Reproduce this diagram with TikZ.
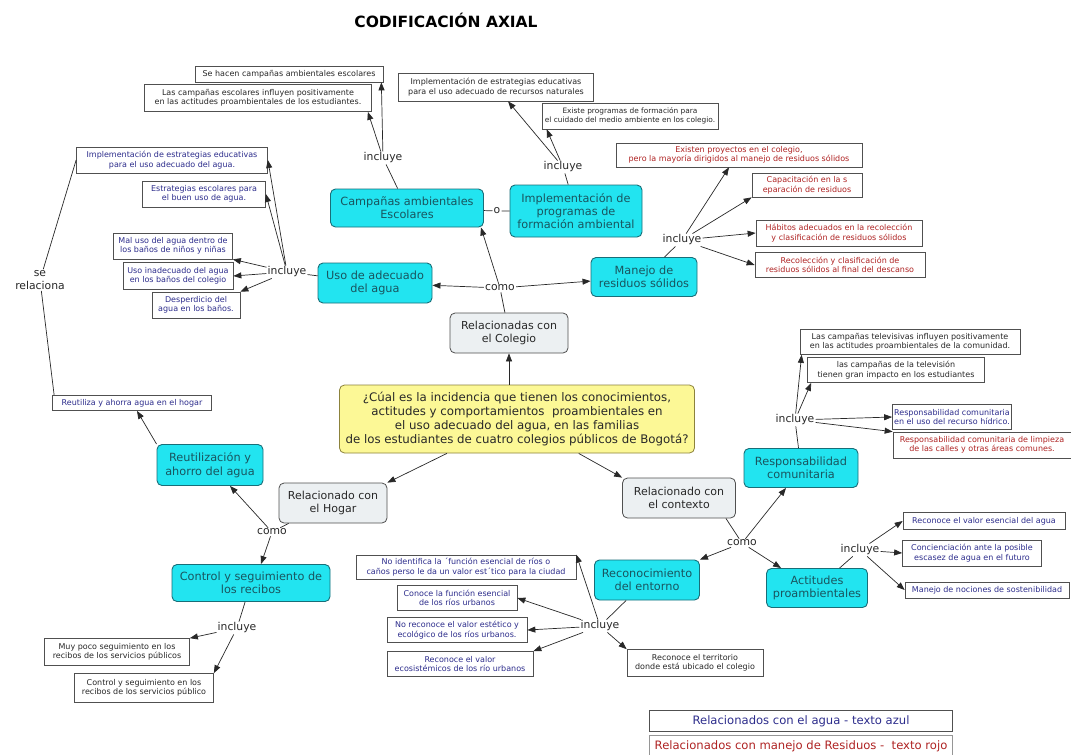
\documentclass[tikz,border=0pt]{standalone}
\usepackage{fontspec}
\setmainfont{DejaVu Sans}
\usetikzlibrary{arrows.meta}
\definecolor{cyanfill}{RGB}{34,228,240}
\definecolor{cyandraw}{RGB}{25,110,120}
\definecolor{cyantext}{RGB}{25,85,95}
\definecolor{greyfill}{RGB}{236,240,242}
\definecolor{greydraw}{RGB}{80,80,80}
\definecolor{yelfill}{RGB}{252,248,150}
\definecolor{yeldraw}{RGB}{140,130,60}
\definecolor{bluetext}{RGB}{45,45,140}
\definecolor{redtext}{RGB}{175,35,35}
\definecolor{darktext}{RGB}{40,40,40}
\definecolor{linecol}{RGB}{40,40,40}
\begin{document}
\begin{tikzpicture}[x=1pt,y=-1pt,
 cnode/.style={draw=cyandraw, fill=cyanfill, rounded corners=5pt, line width=0.9pt, text=cyantext, font=\fontsize{11.3}{13.3}\selectfont, align=center, inner sep=2pt},
 relnode/.style={draw=greydraw, fill=greyfill, rounded corners=5pt, line width=0.8pt, text=darktext, font=\fontsize{11}{13.3}\selectfont, align=center, inner sep=2pt},
 yelnode/.style={draw=yeldraw, fill=yelfill, rounded corners=5pt, line width=0.8pt, text=darktext, font=\fontsize{11.8}{14}\selectfont, align=center, inner sep=2pt},
 sbox/.style={draw=greydraw, fill=white, line width=0.7pt, font=\fontsize{8}{9.4}\selectfont, align=center, inner sep=1.5pt, text=darktext},
 bsbox/.style={sbox, text=bluetext},
 rsbox/.style={sbox, text=redtext},
 lab/.style={font=\fontsize{10.8}{13}\selectfont, text=darktext, inner sep=1pt, align=center},
 con/.style={draw=linecol, line width=0.7pt},
 arr/.style={con, -{Triangle[length=8pt,width=6pt]}},
]
\clip (0,0) rectangle (1071,755);
\fill[white] (0,0) rectangle (1071,755);

\node[font=\fontsize{15.5}{18}\selectfont\bfseries, text=black] (title) at (446,20) {CODIFICACIÓN AXIAL};

% top left
\node[sbox, minimum width=188, minimum height=16] (se) at (289,74) {Se hacen campañas ambientales escolares};
\node[sbox, minimum width=227, minimum height=27] (lcamp) at (258,98) {Las campañas escolares influyen positivamente\\en las actitudes proambientales de los estudiantes.};
\node[lab] (inc1) at (383,158) {incluye};
\node[cnode, minimum width=153, minimum height=38] (camp) at (407,208) {Campañas ambientales\\Escolares};
\node[lab] (o) at (497,211) {o};
\node[cnode, minimum width=132, minimum height=52] (implprog) at (576,211) {Implementación de\\programas de\\formación ambiental};
\node[lab] (inc2) at (563,167) {incluye};
\node[sbox, minimum width=195, minimum height=28] (implrec) at (496,87) {Implementación de estrategias educativas\\para el uso adecuado de recursos naturales};
\node[sbox, font=\fontsize{7.4}{9}\selectfont, minimum width=176, minimum height=26] (existe) at (630,116) {Existe programas de formación para\\el cuidado del medio ambiente en los colegio.};

% center top
\node[cnode, minimum width=114, minimum height=40] (uso) at (375,283) {Uso de adecuado\\del agua};
\node[lab] (como1) at (500,288) {como};
\node[cnode, minimum width=106, minimum height=39] (manejo) at (644,277) {Manejo de\\residuos sólidos};
\node[relnode, minimum width=118, minimum height=40] (relcol) at (509,333) {Relacionadas con\\el Colegio};
\node[yelnode, minimum width=355, minimum height=68] (yellow) at (517,419) {¿Cúal es la incidencia que tienen los conocimientos,\\actitudes y comportamientos\ \ proambientales en\\el uso adecuado del agua, en las familias\\de los estudiantes de cuatro colegios públicos de Bogotá?};

% residuos
\node[lab] (inc3) at (682,240) {incluye};
\node[rsbox, minimum width=246, minimum height=24] (existen) at (739,155) {Existen proyectos en el colegio,\\pero la mayoría dirigidos al manejo de residuos sólidos};
\node[rsbox, minimum width=110, minimum height=24] (capac) at (807,185) {Capacitación en la s\\eparación de residuos};
\node[rsbox, minimum width=166, minimum height=26] (habitos) at (839,233) {Hábitos adecuados en la recolección\\y clasificación de residuos sólidos};
\node[rsbox, minimum width=170, minimum height=25] (recol) at (840,265) {Recolección y clasificación de\\residuos sólidos al final del descanso};

% left agua group
\node[lab] (inc4) at (287,272) {incluye};
\node[bsbox, minimum width=191, minimum height=26] (implagua) at (172,160) {Implementación de estrategias educativas\\para el uso adecuado del agua.};
\node[bsbox, minimum width=123, minimum height=26] (estrat) at (204,194) {Estrategias escolares para\\el buen uso de agua.};
\node[bsbox, minimum width=119, minimum height=26] (maluso) at (173,246) {Mal uso del agua dentro de\\los baños de niños y niñas};
\node[bsbox, minimum width=110, minimum height=27] (usoinad) at (178,276) {Uso inadecuado del agua\\en los baños del colegio};
\node[bsbox, minimum width=88, minimum height=26] (desp) at (196,305) {Desperdicio del\\agua en los baños.};
\node[lab] (serel) at (40,280) {se\\relaciona};
\node[bsbox, minimum width=159, minimum height=15] (reutbox) at (132,403) {Reutiliza y ahorra agua en el hogar};

% hogar
\node[cnode, minimum width=106, minimum height=41] (reut) at (210,465) {Reutilización y\\ahorro del agua};
\node[relnode, minimum width=108, minimum height=40] (hogar) at (333,503) {Relacionado con\\el Hogar};
\node[lab] (como2) at (272,532) {como};
\node[cnode, minimum width=158, minimum height=37] (control) at (251,583) {Control y seguimiento de\\los recibos};
\node[lab] (inc5) at (237,628) {incluye};
\node[sbox, minimum width=145, minimum height=27] (muypoco) at (117,652) {Muy poco seguimiento en los\\recibos de los servicios públicos};
\node[sbox, minimum width=139, minimum height=29] (control2) at (144,688) {Control y seguimiento en los\\recibos de los servicios público};

% contexto
\node[relnode, minimum width=113, minimum height=40] (contexto) at (679,498) {Relacionado con\\el contexto};
\node[lab] (como3) at (742,543) {como};
\node[cnode, minimum width=114, minimum height=39] (resp) at (801,468) {Responsabilidad\\comunitaria};
\node[lab] (inc6) at (795,420) {incluye};
\node[sbox, minimum width=220, minimum height=25] (tvcamp) at (910,342) {Las campañas televisivas influyen positivamente\\en las actitudes proambientales de la comunidad.};
\node[sbox, minimum width=177, minimum height=25] (tvimp) at (896,370) {las campañas de la televisión\\tienen gran impacto en los estudiantes};
\node[bsbox, minimum width=119, minimum height=25] (resphid) at (952,417) {Responsabilidad comunitaria\\en el uso del recurso hídrico.};
\node[rsbox, minimum width=178, minimum height=26] (resplimp) at (982,445) {Responsabilidad comunitaria de limpieza\\de las calles y otras áreas comunes.};
\node[cnode, minimum width=101, minimum height=39] (actit) at (817,588) {Actitudes\\proambientales};
\node[lab] (inc7) at (860,550) {incluye};
\node[bsbox, minimum width=162, minimum height=17] (valesen) at (984,521) {Reconoce el valor esencial del agua};
\node[bsbox, minimum width=139, minimum height=26] (concien) at (972,553) {Concienciación ante la posible\\escasez de agua en el futuro};
\node[bsbox, minimum width=164, minimum height=16] (sosten) at (987,590) {Manejo de nociones de sostenibilidad};
\node[cnode, minimum width=105, minimum height=40] (recon) at (647,580) {Reconocimiento\\del entorno};
\node[lab] (inc8) at (600,626) {incluye};
\node[bsbox, minimum width=220, minimum height=24] (noident) at (466,567) {No identifica la ´función esencial de ríos o\\caños perso le da un valor est´tico para la ciudad};
\node[bsbox, minimum width=120, minimum height=25] (conoce) at (457,598) {Conoce la función esencial\\de los ríos urbanos};
\node[bsbox, minimum width=140, minimum height=25] (noreco) at (457,630) {No reconoce el valor estético y\\ecológico de los ríos urbanos.};
\node[bsbox, minimum width=146, minimum height=25] (recoval) at (460,664) {Reconoce el valor\\ecosistémicos de los río urbanos};
\node[sbox, minimum width=136, minimum height=27] (territ) at (695,663) {Reconoce el territorio\\donde está ubicado el colegio};

% legend
\node[bsbox, font=\fontsize{11.6}{13}\selectfont, minimum width=303, minimum height=21] (leg1) at (801,721) {Relacionados con el agua - texto azul};
\node[rsbox, draw=greydraw!60, font=\fontsize{11.6}{13}\selectfont, minimum width=303, minimum height=22, anchor=north] (leg2) at (801,735) {Relacionados con manejo de Residuos -\ \ texto rojo};

% connectors top left
\draw[con] (camp) -- (inc1);
\draw[arr] (inc1) -- ([xshift=-2pt]se.south east);
\draw[arr] (inc1) -- ([xshift=-4pt]lcamp.south east);
\draw[con] (camp) -- (o) -- (implprog);
\draw[con] (implprog) -- (inc2);
\draw[arr] (inc2) -- (implrec);
\draw[arr] (inc2) -- ([xshift=5pt]existe.south west);

% colegio
\draw[arr] (yellow.north -| relcol) -- (relcol);
\draw[con] (relcol) -- (como1);
\draw[arr] (como1) -- ([xshift=-3pt]camp.south east);
\draw[arr] (como1) -- (uso);
\draw[arr] (como1) -- (manejo);

% residuos
\draw[con] (manejo) -- (inc3);
\draw[arr] (inc3) -- ([xshift=-10pt]existen.south);
\draw[arr] (inc3) -- (capac.south west);
\draw[arr] (inc3) -- (habitos.west);
\draw[arr] (inc3) -- (recol.west);

% agua
\draw[con] (uso) -- (inc4);
\draw[arr] (inc4) -- (implagua.east);
\draw[arr] (inc4) -- (estrat.east);
\draw[arr] (inc4) -- (maluso.south east);
\draw[arr] (inc4) -- (usoinad.east);
\draw[arr] (inc4) -- (desp.north east);
\draw[con] ([xshift=2pt]reutbox.north west) -- (serel) -- (implagua.west);

% hogar
\draw[arr] (yellow) -- (hogar.north east);
\draw[con] ([xshift=10pt]hogar.south west) -- (como2);
\draw[arr] (como2) -- ([xshift=20pt]reut.south);
\draw[arr] (como2) -- ([xshift=10pt]control.north);
\draw[arr] (reut.north west) -- ([xshift=5pt]reutbox.south);
\draw[con] (control) -- (inc5);
\draw[arr] (inc5) -- (muypoco.north east);
\draw[arr] (inc5) -- (control2.north east);

% contexto
\draw[arr] (yellow) -- (contexto.north west);
\draw[con] ([xshift=-10pt]contexto.south east) -- (como3);
\draw[arr] (como3) -- ([xshift=-15pt]resp.south);
\draw[arr] (como3) -- (recon.north east);
\draw[arr] (como3) -- ([xshift=15pt]actit.north west);
\draw[con] (resp) -- (inc6);
\draw[arr] (inc6) -- ([xshift=2pt]tvcamp.south west);
\draw[arr] (inc6) -- ([xshift=4pt]tvimp.south west);
\draw[arr] (inc6) -- (resphid.west);
\draw[arr] (inc6) -- (resplimp.north west);
\draw[con] (actit) -- (inc7);
\draw[arr] (inc7) -- (valesen.west);
\draw[arr] (inc7) -- (concien.west);
\draw[arr] (inc7) -- (sosten.west);
\draw[con] (recon) -- (inc8);
\draw[arr] (inc8) -- (noident.north east);
\draw[arr] (inc8) -- (conoce.east);
\draw[arr] (inc8) -- (noreco.east);
\draw[arr] (inc8) -- (recoval.north east);
\draw[arr] (inc8) -- (territ.north west);
\end{tikzpicture}
\end{document}
